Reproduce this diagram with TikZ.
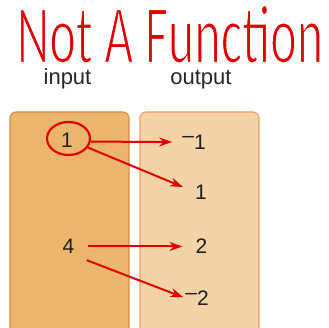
\documentclass[tikz,border=0pt]{standalone}
\usepackage{fontspec}
\setmainfont{Liberation Sans}
\newfontfamily\handfont{Carlito}
\usetikzlibrary{arrows.meta,shapes.geometric}
\definecolor{infill}{HTML}{EBB66B}
\definecolor{inline}{HTML}{E08A4C}
\definecolor{outfill}{HTML}{F4D3A6}
\definecolor{outline}{HTML}{E5A06C}
\definecolor{pen}{HTML}{E00000}
% thin the title strokes: fill, then stroke the outline in white
\newcommand\thinpen[1]{\special{pdf:literal 2 Tr 2.2 w 1 1 1 RG}#1\special{pdf:literal 0 Tr}}

\begin{document}
\begin{tikzpicture}[
  x=1pt,y=-1pt,
  box/.style={draw,rounded corners=6pt,line width=1.1pt},
  num/.style={font=\fontsize{21}{21}\selectfont,text=black!88,inner sep=0pt},
  lbl/.style={font=\fontsize{22}{22}\selectfont,text=black!85,anchor=base,inner sep=0pt},
  title/.style={font=\handfont\fontsize{84}{84}\selectfont,text=pen,anchor=base,inner sep=0pt,text depth=0pt,xscale=.6,transform shape},
  ring/.style={ellipse,draw=pen,line width=2.2pt,minimum width=43pt,minimum height=33pt,inner sep=0pt},
  link/.style={draw=pen,line width=2pt,-{Stealth[length=13pt,width=9pt]}}
]
  \useasboundingbox (0,0) rectangle (329,328);
  \clip (0,0) rectangle (329,328);
  % the two sets
  \draw[box,fill=infill,draw=inline] (10,112) rectangle (129,338);
  \draw[box,fill=outfill,draw=outline] (140,112) rectangle (259,338);
  \node[title] (head) at (170,63) {\thinpen{Not A Function}};
  \node[lbl] (inp) at (67.5,85) {input};
  \node[lbl] (outp) at (201,85) {output};
  % inputs
  \node[num] (a1) at (67,140.5) {1};
  \node[num] (a4) at (68.5,246.5) {4};
  \node[ring] (c1) at (68.5,138.5) {};
  % outputs
  \node[num] (bm1) at (194,142) {\raisebox{.3em}{\textendash}1};
  \node[num] (b1) at (201,192) {1};
  \node[num] (b2) at (201.5,246.5) {2};
  \node[num] (bm2) at (197,298) {\raisebox{.3em}{\textendash}2};
  % mappings
  \draw[link,shorten >=10pt] (c1.-8) -- (bm1.west);
  \draw[link,shorten >=13pt] (c1.-25) -- (b1.west);
  \draw[link,shorten <=13pt,shorten >=13pt] (a4.east) -- (b2.west);
  \draw[link,shorten <=13pt,shorten >=2pt] ([yshift=-9pt]a4.east) -- (bm2.west);
\end{tikzpicture}
\end{document}
